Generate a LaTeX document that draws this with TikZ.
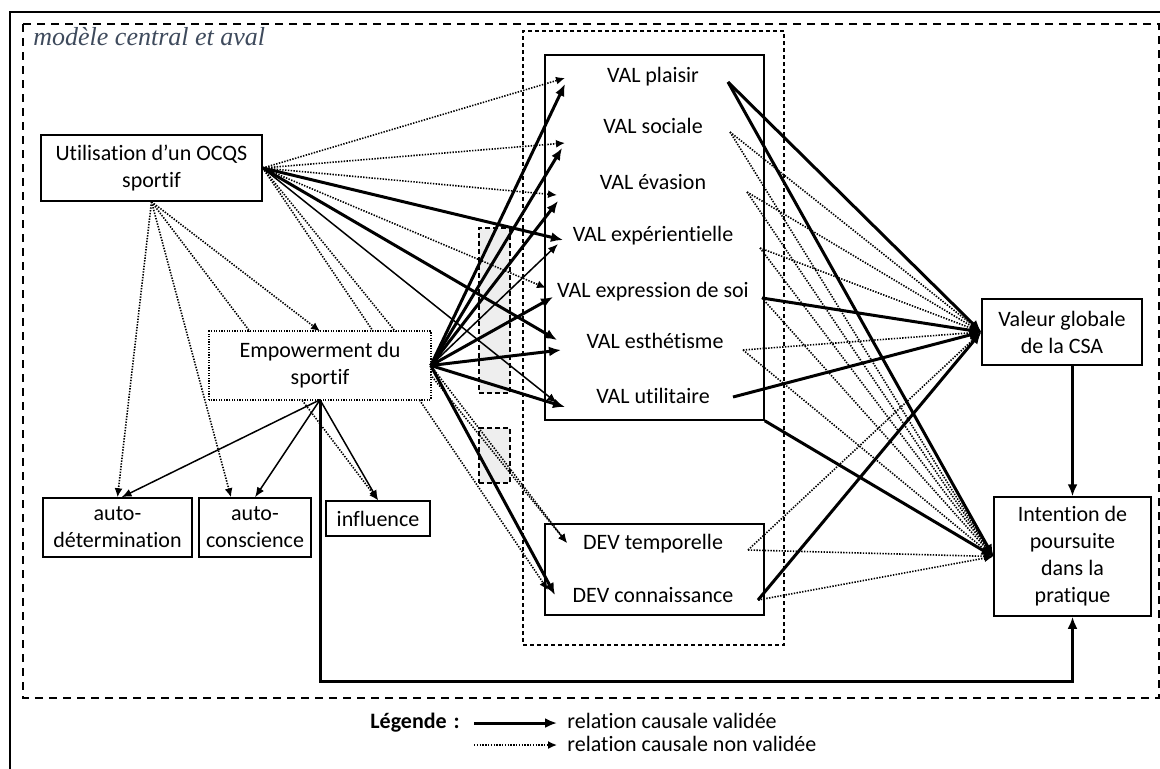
\documentclass[tikz,border=0pt]{standalone}
\usepackage{fontspec}
\setmainfont{Carlito}[Ligatures={NoCommon}]
\newfontfamily\serifit{Liberation Serif}
\usetikzlibrary{arrows.meta,calc}
\definecolor{lbl}{HTML}{3E4A5C}
\definecolor{grayfill}{HTML}{EEEEEE}
\tikzset{
  box/.style={draw, line width=0.75pt, align=center, inner sep=0pt, fill=white},
  graybox/.style={draw, fill=grayfill, dash pattern=on 2.5pt off 1.5pt, line width=0.6pt, inner sep=0pt},
  lab/.style={anchor=base, inner sep=0pt},
  vld/.style={line width=1.5pt, -{Latex[length=6pt,width=5pt]}},
  thn/.style={line width=0.75pt, -{Latex[length=5pt,width=4pt]}},
  nvd/.style={line width=0.8pt, dash pattern=on 0.7pt off 0.7pt, -{Latex[length=4.5pt,width=4pt]}},
}
\begin{document}
\begin{tikzpicture}[x=0.5pt,y=-0.5pt,font=\fontsize{11}{13.5}\selectfont]
\useasboundingbox (0,0) rectangle (1160,768);
\fill[white] (0,0) rectangle (1160,768);
% frames
\draw[line width=1pt] (1170,12) -- (10,12) -- (10,780);
\draw[line width=1pt, dash pattern=on 4pt off 3pt] (23,24) rectangle (1159,698);
\node[anchor=base west, font=\serifit\itshape\fontsize{13}{15}\selectfont, text=lbl, inner sep=0pt] (title) at (33,45) {modèle central et aval};
% grey boxes and middle frame
\node[graybox, minimum width=15.5pt, minimum height=82.5pt] (g1) at (494.5,310.5) {};
\node[graybox, minimum width=15.5pt, minimum height=27.5pt] (g2) at (494.5,455.5) {};
\node[draw, dash pattern=on 2pt off 1.5pt, line width=0.6pt, minimum width=130.5pt, minimum height=307pt, inner sep=0pt] (mid) at (653.5,338) {};
\node[draw, line width=0.75pt, minimum width=109.5pt, minimum height=182.5pt, inner sep=0pt] (valbox) at (654.5,237.5) {};
\node[draw, line width=0.75pt, minimum width=109.5pt, minimum height=45.5pt, inner sep=0pt] (devbox) at (654.5,569.5) {};
% labels
\node[lab] (vpl) at (653,82) {VAL plaisir};
\node[lab] (vso) at (653,133) {VAL sociale};
\node[lab] (vev) at (653,189) {VAL évasion};
\node[lab] (vex) at (653,241) {VAL expérientielle};
\node[lab] (vxs) at (653,297) {VAL expression de soi};
\node[lab] (ves) at (655,348) {VAL esthétisme};
\node[lab] (vut) at (653,403) {VAL utilitaire};
\node[lab] (dte) at (653,549) {DEV temporelle};
\node[lab] (dco) at (653,602) {DEV connaissance};
% other boxes
\node[box, minimum width=110.5pt, minimum height=33pt] (util) at (151.5,168) {Utilisation d’un OCQS\\sportif};
\node[box, minimum width=74.5pt, minimum height=29.5pt] (adet) at (117.5,527.5) {auto-\\détermination};
\node[box, minimum width=56pt, minimum height=29.5pt] (acon) at (255,527.5) {auto-\\conscience};
\node[box, minimum width=52pt, minimum height=17.5pt] (infl) at (378,518.5) {influence};
\node[box, minimum width=80pt, minimum height=33pt] (vg) at (1062,332) {Valeur globale\\de la CSA};
\node[box, minimum width=78.5pt, minimum height=59.5pt] (intent) at (1072.5,556.5) {Intention de\\poursuite\\dans la\\pratique};
% port coordinates (left tips)
\coordinate (plU) at (565,78);  \coordinate (plE) at (565,84);
\coordinate (soU) at (565,143); \coordinate (soE) at (562,148);
\coordinate (evU) at (557,195); \coordinate (evE) at (558,201);
\coordinate (exU) at (563,240); \coordinate (exE) at (558,244);
\coordinate (xsU) at (546,288); \coordinate (xsE) at (553,297);
\coordinate (esU) at (557,340); \coordinate (esE) at (561,350);
\coordinate (utU) at (557,403); \coordinate (utE) at (565,407);
\coordinate (dtI) at (567,543);
\coordinate (dcU) at (548,590); \coordinate (dcE) at (555,595);
% right sources
\coordinate (plR) at (728,82);  \coordinate (soR) at (730,132);
\coordinate (evR) at (747,192); \coordinate (exR) at (760,248);
\coordinate (xsR) at (762,298); \coordinate (esR) at (743,350);
\coordinate (utR) at (733,397); \coordinate (dtR) at (748,550);
\coordinate (dcR) at (758,600);
\coordinate (bot) at (0,681);
% lines passing under the empowerment box
\draw[nvd] (util.south) -- (infl.north);
\draw[nvd] (util.east) -- (dtI);
\draw[nvd] (util.east) -- (dcU);
% empowerment box
\node[box, draw=none, minimum width=110pt, minimum height=33.5pt] (emp) at (320,365.5) {Empowerment du\\sportif};
\draw[line width=0.8pt, dash pattern=on 0.6pt off 0.7pt] (emp.south west) rectangle (emp.north east);
% utilisation -> others
\draw[nvd] (util.east) -- (plU);
\draw[nvd] (util.east) -- (soU);
\draw[nvd] (util.east) -- (evU);
\draw[vld] (util.east) -- (exU);
\draw[nvd] (util.east) -- (xsU);
\draw[vld] (util.east) -- (esU);
\draw[thn] (util.east) -- (utU);
\draw[nvd] (util.south) -- (emp.north);
\draw[nvd] (util.south) -- (adet.north);
\draw[nvd] (util.south) -- ($(acon.north)+(-24,0)$);
% empowerment -> others
\draw[vld] (emp.east) -- (plE);
\draw[vld] (emp.east) -- (soE);
\draw[vld] (emp.east) -- (evE);
\draw[thn] (emp.east) -- (exE);
\draw[vld] (emp.east) -- (xsE);
\draw[vld] (emp.east) -- (esE);
\draw[vld] (emp.east) -- (utE);
\draw[nvd] (emp.east) -- (dtI);
\draw[vld] (emp.east) -- (dcE);
\draw[thn] (emp.south) -- ($(adet.north)+(4,0)$);
\draw[thn] (emp.south) -- (acon.north);
\draw[thn] (emp.south) -- (infl.north);
\draw[vld] (emp.south) -- (emp.south |- bot) -- (intent.south |- bot) -- (intent.south);
% right side to Valeur globale
\draw[vld] (plR) -- (vg.west);
\draw[nvd] (soR) -- (vg.west);
\draw[nvd] (evR) -- (vg.west);
\draw[nvd] (exR) -- (vg.west);
\draw[vld] (xsR) -- (vg.west);
\draw[nvd] (esR) -- (vg.west);
\draw[vld] (utR) -- (vg.west);
\draw[nvd] (dtR) -- (vg.west);
\draw[vld] (dcR) -- (vg.west);
% right side to Intention
\draw[vld] (plR) -- (intent.west);
\draw[nvd] (soR) -- (intent.west);
\draw[nvd] (evR) -- (intent.west);
\draw[nvd] (exR) -- (intent.west);
\draw[nvd] (xsR) -- (intent.west);
\draw[nvd] (esR) -- (intent.west);
\draw[vld] (valbox.south east) -- (intent.west);
\draw[nvd] (dtR) -- (intent.west);
\draw[nvd] (dcR) -- (intent.west);
\draw[vld] (intent.north |- vg.south) -- (intent.north);
% legend
\node[anchor=base west, inner sep=0pt, font=\fontsize{11}{13.5}\selectfont\bfseries] (leg) at (370,728) {Légende\hspace{3.5pt}:};
\node[anchor=base west, inner sep=0pt] (l1) at (567,728) {relation causale validée};
\node[anchor=base west, inner sep=0pt] (l2) at (567,751) {relation causale non validée};
\coordinate (la1) at (474,723);
\coordinate (la2) at (474,745);
\draw[vld] (la1) -- ($(l1.west |- la1)+(-10,0)$);
\draw[nvd] (la2) -- ($(l2.west |- la2)+(-10,0)$);
\end{tikzpicture}
\end{document}
